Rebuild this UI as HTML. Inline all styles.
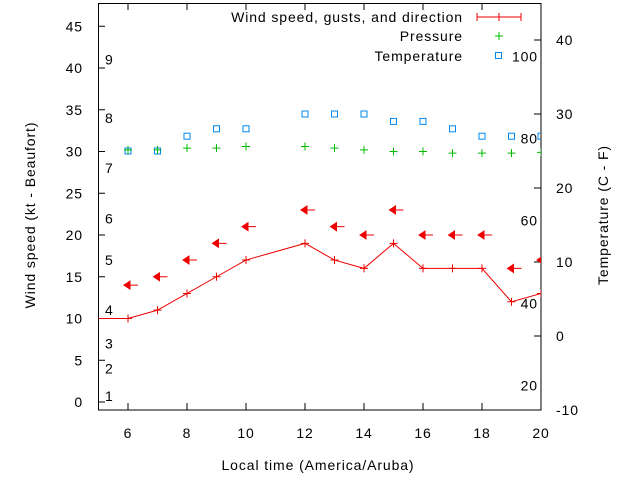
<!DOCTYPE html>
<html><head><meta charset="utf-8"><style>
body{margin:0;background:#fff}
svg{display:block;font-family:"Liberation Sans",sans-serif}
text{font-size:14px;fill:#000;letter-spacing:0.9px}
</style></head><body>
<svg id="c" width="640" height="480" viewBox="0 0 640 480">
<defs><clipPath id="pc"><rect x="98" y="3" width="443" height="407"/></clipPath></defs>
<rect x="98.5" y="3.5" width="442.5" height="406.5" fill="none" stroke="#000"/>
<g id="axes"></g>
<g id="marks" clip-path="url(#pc)"></g>
<text x="35" y="215" text-anchor="middle" transform="rotate(-90 35 215)">Wind speed (kt - Beaufort)</text>
<text x="608" y="215" text-anchor="middle" transform="rotate(-90 608 215)">Temperature (C - F)</text>
<text x="318" y="470" text-anchor="middle">Local time (America/Aruba)</text>
<g>
<text x="463" y="22" text-anchor="end">Wind speed, gusts, and direction</text>
<path d="M477 17H521M477 13V21M499 13V21M521 13V21" stroke="#e00" fill="none"/>
<text x="463" y="41" text-anchor="end">Pressure</text>
<path d="M495 36H503M499 32V40" stroke="#0b0"/>
<text x="463" y="61" text-anchor="end">Temperature</text>
<rect x="495.5" y="52.5" width="6" height="6" fill="none" stroke="#08e"/>
</g>
</svg>
<script>
const hours=[5,6,7,8,9,10,12,13,14,15,16,17,18,19,20];
const windKt=[10,10,11,13,15,17,19,17,16,19,16,16,16,12,13];
const gustKt=[null,14,15,17,19,21,23,21,20,23,20,20,20,16,17];
const tempC=[null,25,25,27,28,28,30,30,30,29,29,28,27,27,27];
const pressure=[null,30.2,30.2,30.4,30.4,30.6,30.6,30.4,30.2,30.0,30.0,29.8,29.8,29.8,29.9];
const xTicks=[6,8,10,12,14,16,18,20];
const yTicks=[0,5,10,15,20,25,30,35,40,45];
const y2Ticks=[-10,0,10,20,30,40];
const beaufort=[[1,0.7],[2,4],[3,7],[4,11],[5,17],[6,22],[7,28],[8,34],[9,41]];
const fahr=[[20,-6.7],[40,4.4],[60,15.6],[80,26.7],[100,37.8]];
const X=h=>98.5+(h-5)*29.5;
const Y=v=>402-v*8.35;
const Y2=t=>336-t*7.4;
const NS="http://www.w3.org/2000/svg";
const ax=document.getElementById('axes'),mk=document.getElementById('marks');
function el(p,t,a,txt){const e=document.createElementNS(NS,t);for(const k in a)e.setAttribute(k,a[k]);if(txt!==undefined)e.textContent=txt;p.appendChild(e);return e;}
xTicks.forEach(h=>{
 const x=X(h);
 const t=el(ax,'path',{d:`M${x} 410V403M${x} 3V10`,stroke:'#000'});
 
 
 const l=el(ax,'text',{x:x,y:438,'text-anchor':'middle'},h);
 
 
});
yTicks.forEach(v=>{
 const y=Y(v);
 const t=el(ax,'path',{d:`M98.5 ${y}H105`,stroke:'#000'});
 
 
 const l=el(ax,'text',{x:83,y:y+5,'text-anchor':'end'},v);
 
 
});
y2Ticks.forEach(v=>{
 const y=Y2(v);
 const t=el(ax,'path',{d:`M541 ${y}H534`,stroke:'#000'});
 
 
 const l=el(ax,'text',{x:556,y:y+5},v);
 
 
});
beaufort.forEach(([b,v])=>{
 const l=el(ax,'text',{x:105,y:Y(v)+5},b);
 
 
});
fahr.forEach(([f,c])=>{
 const l=el(ax,'text',{x:538,y:Y2(c)+5,'text-anchor':'end'},f);
 
 
});
const line=el(mk,'polyline',{points:hours.map((h,i)=>X(h)+','+Y(windKt[i])).join(' '),fill:'none',stroke:'#e00'});


hours.forEach((h,i)=>{
 if(h<6)return;
 const x=X(h),y=Y(windKt[i]);
 const m=el(mk,'path',{d:`M${x-4} ${y}H${x+4}M${x} ${y-4}V${y+4}`,stroke:'#e00'});
 
 
 if(gustKt[i]!=null){
  const gy=Y(gustKt[i]);
  const a=el(mk,'path',{d:`M${x-4} ${gy}l6 -4v8zM${x+2} ${gy}H${x+10}`,fill:'#e00',stroke:'#e00'});
  
  
 }
 if(tempC[i]!=null){
  const s=el(mk,'rect',{x:X(h)-3,y:Y2(tempC[i])-3,width:6,height:6,fill:'none',stroke:'#08e'});
  
  
 }
 if(pressure[i]!=null){
  const py=Y(pressure[i]);
  const p=el(mk,'path',{d:`M${x-4} ${py}H${x+4}M${x} ${py-4}V${py+4}`,stroke:'#0b0'});
  
  
 }
});
</script>
</body></html>
